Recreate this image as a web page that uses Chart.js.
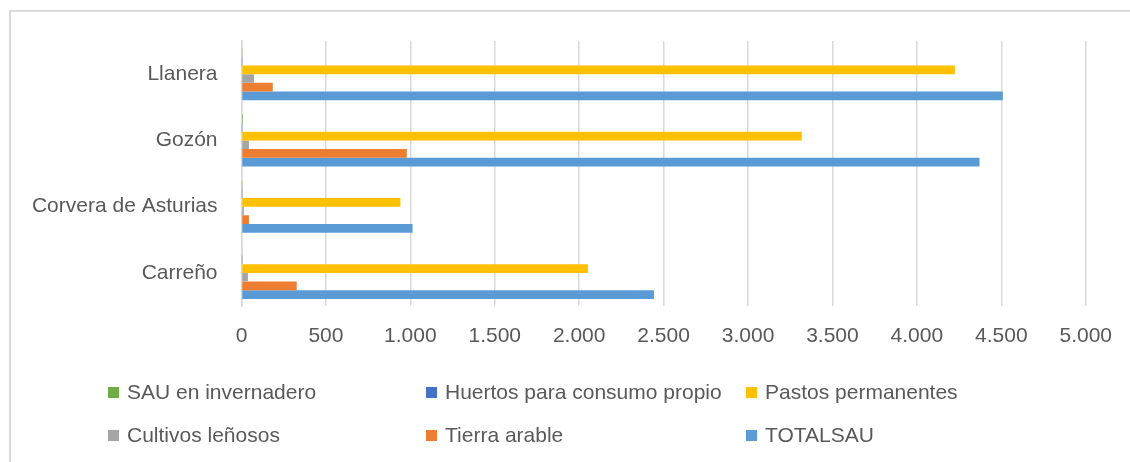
<!DOCTYPE html>
<html lang="es">
<head>
  <meta charset="UTF-8">
  <title>SAU por concejo</title>
  <script src="https://cdn.jsdelivr.net/npm/chart.js"></script>
  <style>
    body {margin:0;background:#fff}
    #wrap {position:relative;width:1130px;height:462px;font-family:"Liberation Sans",Arial,sans-serif}
    .frame {position:absolute;left:9px;top:10px;right:0;bottom:0;border-top:2px solid #d9d9d9;border-left:2px solid #d9d9d9}
    canvas {position:absolute;left:0;top:0}
    .leg {position:absolute;color:#595959;font-size:21px;line-height:24px;white-space:nowrap}
    .leg i {display:inline-block;width:11px;height:11px;margin-right:8px;vertical-align:1px}
  </style>
</head>
<body>
<div id="wrap">
  <div class="frame"></div>
  <canvas id="chart" width="1130" height="462"></canvas>
  <div id="legend"></div>
</div>

<script>
// concejos (de arriba a abajo)
const concejos = ['Llanera', 'Gozón', 'Corvera de Asturias', 'Carreño'];

// hectáreas por tipo de superficie
const sauInvernadero = [2, 8, 1, 5];
const huertos        = [1, 1, 1, 1];
const pastos         = [4225, 3318, 941, 2052];
const lenosos        = [74, 44, 14, 38];
const tierraArable   = [185, 979, 44, 327];
const totalSau       = [4509, 4371, 1013, 2443];

const xTicks = ['0', '500', '1.000', '1.500', '2.000', '2.500', '3.000', '3.500', '4.000', '4.500', '5.000'];

const series = [
  { label: 'SAU en invernadero',          data: sauInvernadero, color: '#70AD47' },
  { label: 'Huertos para consumo propio', data: huertos,        color: '#4472C4' },
  { label: 'Pastos permanentes',          data: pastos,         color: '#FFC000' },
  { label: 'Cultivos leñosos',            data: lenosos,        color: '#A5A5A5' },
  { label: 'Tierra arable',               data: tierraArable,   color: '#ED7D31' },
  { label: 'TOTALSAU',                    data: totalSau,       color: '#5B9BD5' }
];

const font = { family: '"Liberation Sans", Arial, sans-serif', size: 21 };

new Chart(document.getElementById('chart'), {
  type: 'bar',
  data: {
    labels: concejos,
    datasets: series.map(s => ({
      label: s.label, data: s.data, backgroundColor: s.color,
      categoryPercentage: 0.79, barPercentage: 1
    }))
  },
  options: {
    indexAxis: 'y',
    responsive: false,
    animation: false,
    layout: { padding: { top: 41, right: 42, bottom: 116, left: 0 } },
    plugins: { legend: { display: false }, tooltip: { enabled: false } },
    scales: {
      x: {
        min: 0, max: 5000,
        ticks: { stepSize: 500, color: '#595959', font, padding: 18,
                 callback: (v, i) => xTicks[i] },
        grid: { color: '#d9d9d9', lineWidth: 1.5, drawTicks: false },
        border: { display: false },
        afterFit: s => { s.height = 40; }
      },
      y: {
        ticks: { color: '#595959', font, padding: 24 },
        grid: { display: false, drawTicks: false },
        border: { color: '#d9d9d9', width: 1.5 },
        afterFit: s => { s.width = 241.5; }
      }
    }
  }
});

// leyenda en tres columnas, como en el original
const legCols = [108, 426, 746];
const legRows = [380, 423];
document.getElementById('legend').innerHTML = series.map((s, i) =>
  `<div class="leg" style="left:${legCols[i % 3]}px;top:${legRows[Math.floor(i / 3)]}px">` +
  `<i style="background:${s.color}"></i>${s.label}</div>`
).join('');
</script>
</body>
</html>
